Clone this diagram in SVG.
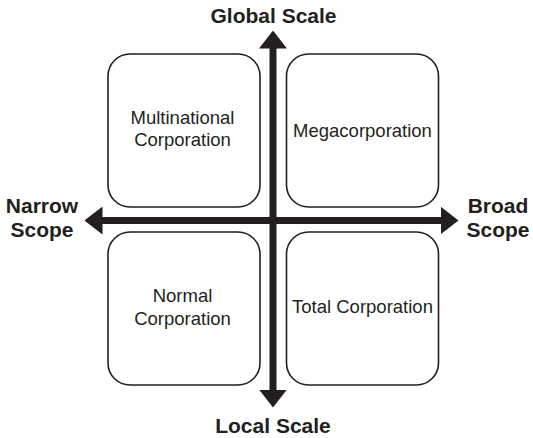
<svg xmlns="http://www.w3.org/2000/svg" width="533" height="438" viewBox="0 0 533 438">
  <style>
    .box { fill: #ffffff; stroke: #231f20; stroke-width: 1.6; }
    .axis { stroke: #231f20; stroke-width: 7; fill: none; }
    .label { font-family: "Liberation Sans", Arial, sans-serif; font-size: 18.5px; fill: #231f20; text-anchor: middle; }
    .pole { font-family: "Liberation Sans", Arial, sans-serif; font-size: 21px; font-weight: bold; fill: #231f20; text-anchor: middle; }
  </style>
  <defs>
    <marker id="head" markerUnits="userSpaceOnUse" viewBox="0 0 18 28" markerWidth="18" markerHeight="28" refX="0.5" refY="14" orient="auto-start-reverse">
      <path d="M0,0 L18,14 L0,28 Z" fill="#231f20"/>
    </marker>
  </defs>
  <rect width="533" height="438" fill="#ffffff"/>

  <!-- quadrant boxes -->
  <g id="multinational">
    <rect class="box" x="108" y="54" width="152" height="153" rx="22"/>
    <text class="label" x="182.5" y="124">Multinational</text>
    <text class="label" x="182.5" y="146">Corporation</text>
  </g>
  <g id="megacorporation">
    <rect class="box" x="286.5" y="54" width="152" height="153" rx="22"/>
    <text class="label" x="362.5" y="137">Megacorporation</text>
  </g>
  <g id="normal">
    <rect class="box" x="108" y="232" width="152" height="153" rx="22"/>
    <text class="label" x="182.5" y="302">Normal</text>
    <text class="label" x="182.5" y="325">Corporation</text>
  </g>
  <g id="total">
    <rect class="box" x="286.5" y="232" width="152" height="153" rx="22"/>
    <text class="label" x="362.5" y="313">Total Corporation</text>
  </g>

  <!-- axes -->
  <g id="connectors">
    <line class="axis" x1="102" y1="220.5" x2="441" y2="220.5" marker-start="url(#head)" marker-end="url(#head)"/>
    <line class="axis" x1="273" y1="48" x2="273" y2="390" marker-start="url(#head)" marker-end="url(#head)"/>
  </g>

  <!-- axis end labels -->
  <g id="global-scale">
    <text class="pole" x="273.5" y="23">Global Scale</text>
  </g>
  <g id="local-scale">
    <text class="pole" x="273" y="433">Local Scale</text>
  </g>
  <g id="narrow-scope">
    <text class="pole" x="42" y="213">Narrow</text>
    <text class="pole" x="42" y="236.5">Scope</text>
  </g>
  <g id="broad-scope">
    <text class="pole" x="498" y="213">Broad</text>
    <text class="pole" x="498" y="236.5">Scope</text>
  </g>
</svg>
